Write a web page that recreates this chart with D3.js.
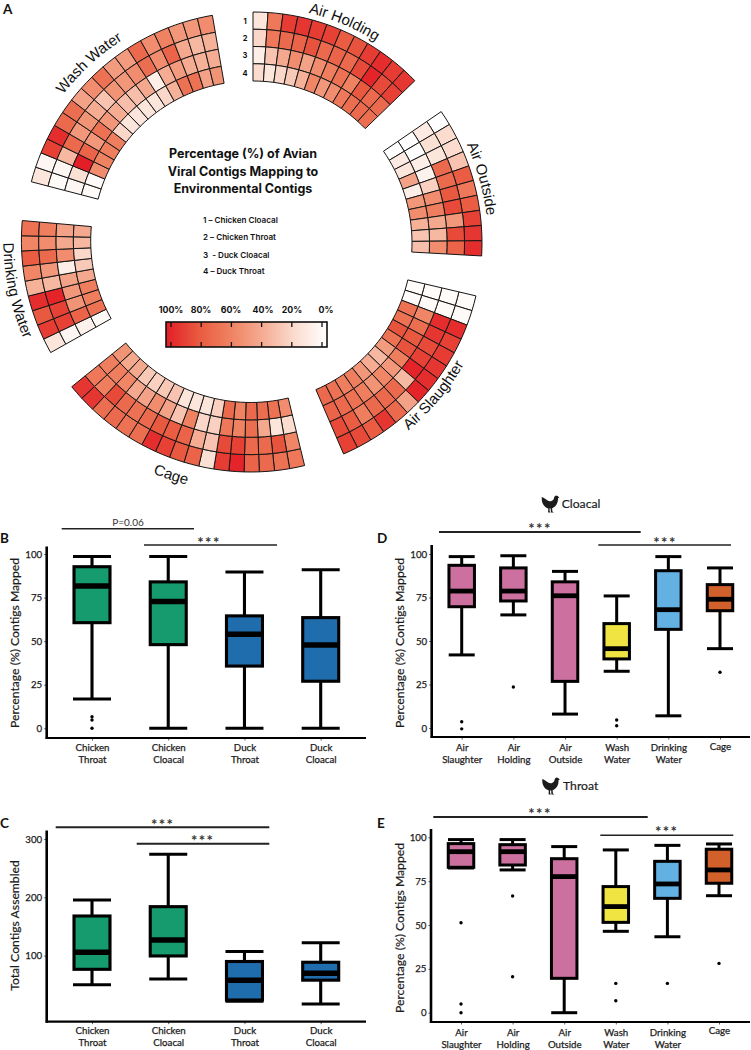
<!DOCTYPE html>
<html>
<head>
<meta charset="utf-8">
<script src="https://cdnjs.cloudflare.com/ajax/libs/d3/7.8.5/d3.min.js"></script>
<style>
html,body{margin:0;padding:0;background:#fff}
svg{display:block}
</style>
</head>
<body>
<svg id="c" width="751" height="1050" viewBox="0 0 751 1050"></svg>
<script>
// ---------- Panel A data (rows run outer ring to inner ring, cells run clockwise) ----------
const airHolding = [
  [15,65,90,92,90,88,78,82,90,95,90,92],
  [22,65,72,75,82,72,75,72,85,98,85,88],
  [10,30,42,55,45,55,62,68,60,80,72,72],
  [20,15,22,28,38,58,50,55,65,70,72,70]
];
const airOutside = [
  [0,20,20,30,78,65,78,88,92,95],
  [12,18,15,72,72,80,85,50,85,75],
  [0,0,10,8,25,55,62,42,35,55],
  [0,12,15,45,10,50,55,38,30,32]
];
const airSlaughter = [
  [2,3,95,88,90,92,95,98,45,72,92,78,85,88],
  [2,3,95,92,85,88,98,35,72,72,72,62,78,85],
  [2,3,58,70,80,82,62,50,58,52,62,68,72,75],
  [2,2,68,68,82,68,48,35,40,50,62,62,68,72]
];
const cage = [
  [65,68,72,75,98,90,18,75,80,88,95,70,68,72,70,92,92],
  [58,82,72,72,88,85,30,40,75,78,80,72,68,72,85,62,65],
  [20,15,42,70,60,65,25,22,60,30,45,55,45,42,58,62,62],
  [55,68,70,72,60,72,25,15,15,15,30,28,25,28,42,42,52]
];
const drinkingWater = [
  [15,90,80,95,38,58,78,58,68],
  [5,88,88,98,35,50,72,55,62],
  [8,75,52,50,45,10,55,42,45],
  [3,68,62,62,42,28,22,35,42]
];
const washWater = [
  [15,5,88,95,72,70,45,55,68,48,48,72,55,60,50,50,55],
  [3,5,35,72,50,52,40,30,52,50,55,70,55,75,42,35,38],
  [5,18,100,75,50,68,50,40,32,32,42,10,40,48,40,38,40],
  [3,3,55,60,62,62,22,15,15,15,15,22,38,68,68,45,52]
];
const rowNumbers = ["1","2","3","4"];
const titleLines = ["Percentage (%) of Avian","Viral Contigs Mapping to","Environmental Contigs"];
const keyLines = ["1 – Chicken Cloacal","2 – Chicken Throat","3  - Duck Cloacal","4 – Duck Throat"];
const legendStops = [100,80,60,40,20,0];
const legendLabels = ["100%","80%","60%","40%","20%","0%"];

// ---------- Box plot data ----------
const sampleCats = ["Chicken Throat","Chicken Cloacal","Duck Throat","Duck Cloacal"];
const sampleColors = ["#169b6f","#169b6f","#1f6dad","#1f6dad"];
const envCats = ["Air Slaughter","Air Holding","Air Outside","Wash Water","Drinking Water","Cage"];
const envColors = ["#cb709f","#cb709f","#cb709f","#f0e442","#62b1e2","#d2602a"];

const bLow = [16.8,0,0,0], bQ1 = [60.6,48,35.7,27], bMed = [81.6,72.7,54,47.8], bQ3 = [92.7,84,64.5,63.5], bHigh = [98.5,98.5,89.7,91];
const bOut = [[6.6,4.8,0],[],[],[]];
const bTicks = [0,25,50,75,100];

const cLow = [50,60,22,17], cQ1 = [76.6,99.5,24,58], cMed = [105.8,127,58,70], cQ3 = [168,184,90,88.7], cHigh = [195.5,274,107,122];
const cOut = [[],[],[],[]];
const cTicks = [100,200,300];

const dLow = [42,65,8,32.6,7,45.6], dQ1 = [69.7,73,26.8,39.7,56.7,67.4], dMed = [78.7,78.7,76,45.6,68,74], dQ3 = [93.5,92,84,60,90.4,82.4], dHigh = [98.5,99,90,75.9,98.5,92];
const dOut = [[3.6,-0.5],[23.6],[],[4.6,1.3],[],[32]];

const eLow = [82.5,81.4,0,46.4,43.3,66.7], eQ1 = [82.9,84.2,19.6,51.5,65.2,73.8], eMed = [91.8,91.8,77.6,60.5,73.4,81.4], eQ3 = [96.4,95.8,87.8,71.9,86.3,93.2], eHigh = [98.7,98.7,94.7,92.8,95.4,96.2];
const eOut = [[51.3,5,0],[66.5,20.5],[],[16.7,6.8],[16.7],[28.1]];

const svg = d3.select("#c");
const SANS = "'Liberation Sans',Arial,sans-serif";
const LAB = "Lato,'Open Sans',sans-serif";
const HEAD = "Inter,'Noto Sans',sans-serif";

// ---------- Panel A ----------
const deg = d => d * Math.PI / 180;
const heat = d3.scaleLinear()
  .domain([0,20,40,60,80,100])
  .range(["#ffffff","#fbdccf","#f5ac93","#ef8261","#e9593f","#e31e27"]);

const ring = svg.append("g");
const defs = svg.append("defs");
const sectors = [
  {name:"Air Holding", rows:airHolding, cx:253, cy:237, r0:156, r1:225, a0:0, a1:46, la:23, lr:231, lsp:78, flip:false},
  {name:"Air Outside", rows:airOutside, cx:250, cy:243, r0:162, r1:232, a0:55.5, a1:93.2, la:74.5, lr:238, lsp:80, flip:false},
  {name:"Air Slaughter", rows:airSlaughter, cx:253, cy:243.6, r0:159, r1:229, a0:103.2, a1:156.7, la:130, lr:243, lsp:90, flip:true},
  {name:"Cage", rows:cage, cx:250.5, cy:242, r0:160.5, r1:230, a0:166.4, a1:231, la:198.8, lr:251, lsp:60, flip:true},
  {name:"Drinking Water", rows:drinkingWater, cx:250.4, cy:240.5, r0:159.7, r1:229, a0:240.7, a1:275, la:258, lr:247, lsp:100, flip:true},
  {name:"Wash Water", rows:washWater, cx:251, cy:239, r0:158, r1:227, a0:284.6, a1:350.2, la:317.4, lr:237, lsp:90, flip:false}
];
sectors.forEach((s,si) => {
  const g = ring.append("g").attr("transform",`translate(${s.cx},${s.cy})`);
  const n = s.rows[0].length;
  const ang = d3.scaleLinear().domain([0,n]).range([deg(s.a0),deg(s.a1)]);
  const rad = d3.scaleLinear().domain([0,4]).range([s.r1,s.r0]);
  const arc = d3.arc();
  s.rows.forEach((row,ri) => {
    g.selectAll(null).data(row).enter().append("path")
      .attr("d",(v,i) => arc({innerRadius:rad(ri+1),outerRadius:rad(ri),startAngle:ang(i),endAngle:ang(i+1)}))
      .attr("fill",v => heat(v))
      .attr("stroke","#161616").attr("stroke-width",1);
  });
  // curved name
  const half = s.lsp/2/s.lr*180/Math.PI*1.5;
  const toXY = a => [s.cx+s.lr*Math.sin(deg(a)), s.cy-s.lr*Math.cos(deg(a))];
  const [fromA,toA] = s.flip ? [s.la+half,s.la-half] : [s.la-half,s.la+half];
  const [x0,y0] = toXY(fromA), [x1,y1] = toXY(toA);
  const id = "lab"+si;
  defs.append("path").attr("id",id)
    .attr("d",`M${x0},${y0}A${s.lr},${s.lr} 0 0 ${s.flip?0:1} ${x1},${y1}`);
  svg.append("text").attr("font-family",SANS).attr("font-size",15).attr("fill","#111")
    .append("textPath").attr("href","#"+id).attr("startOffset","50%").attr("text-anchor","middle")
    .text(s.name);
});
// row numbers
const rowY = d3.scalePoint().domain(rowNumbers).range([21.5,73]);
svg.selectAll(null).data(rowNumbers).enter().append("text")
  .attr("x",245).attr("y",d=>rowY(d)).attr("dy","0.35em").attr("text-anchor","middle")
  .attr("font-family",HEAD).attr("font-weight",700).attr("font-size",7.5).attr("fill","#111").text(d=>d);

// centre texts
svg.selectAll(null).data(titleLines).enter().append("text")
  .attr("x",243).attr("y",(d,i)=>154+i*17.2).attr("dy","0.35em").attr("text-anchor","middle")
  .attr("font-family",HEAD).attr("font-weight",700).attr("font-size",12.5).attr("fill","#111").text(d=>d);
const keyY = [220,237,255,271.5];
svg.selectAll(null).data(keyLines).enter().append("text")
  .attr("x",203).attr("y",(d,i)=>keyY[i]).attr("dy","0.35em").style("white-space","pre")
  .attr("font-family",HEAD).attr("font-weight",600).attr("font-size",8.1).attr("fill","#111").text(d=>d);

// gradient legend
const grad = defs.append("linearGradient").attr("id","lg");
d3.range(0,101,10).forEach(t => grad.append("stop").attr("offset",t+"%").attr("stop-color",heat(100-t)));
const lx = d3.scaleLinear().domain([100,0]).range([171,322]);
const lgY0 = 322, lgY1 = 347;
svg.append("rect").attr("x",166).attr("y",lgY0).attr("width",161).attr("height",lgY1-lgY0)
  .attr("fill","url(#lg)").attr("stroke","#111").attr("stroke-width",1.6);
svg.selectAll(null).data(legendStops).enter().append("line").attr("x1",d=>lx(d)).attr("x2",d=>lx(d)).attr("y1",lgY0).attr("y2",lgY0+5).attr("stroke","#111").attr("stroke-width",1.3);
svg.selectAll(null).data(legendStops).enter().append("line").attr("x1",d=>lx(d)).attr("x2",d=>lx(d)).attr("y1",lgY1-5).attr("y2",lgY1).attr("stroke","#111").attr("stroke-width",1.3);
const lgLabX = [171,201,231,263,292,326];
svg.selectAll(null).data(legendLabels).enter().append("text")
  .attr("x",(d,i)=>lgLabX[i]).attr("y",310).attr("dy","0.35em").attr("text-anchor","middle")
  .attr("font-family",HEAD).attr("font-weight",700).attr("font-size",8.8).attr("fill","#111").text(d=>d);

// ---------- Panel letters ----------
const letters = [["A",3,13.5],["B",0,543],["C",0,828],["D",377,543],["E",377,828]];
svg.selectAll(null).data(letters).enter().append("text")
  .attr("x",d=>d[1]).attr("y",d=>d[2]).attr("font-size",13.5)
  .attr("font-family",LAB).attr("font-weight",700).attr("fill","#111").text(d=>d[0]);

// ---------- Box plots ----------
function boxPanel(o){
  const g = svg.append("g");
  const x = d3.scalePoint().domain(o.cats).range(o.xr);
  const y = d3.scaleLinear().domain(o.dom).range(o.yr);

  const styleLab = sel => sel.attr("font-family",LAB).attr("font-weight",400).attr("font-size",9.7)
    .attr("fill","#1c1c1c").attr("stroke","#1c1c1c").attr("stroke-width",.25);

  // axes
  const ax = g.append("g").attr("transform",`translate(${o.ax0},0)`)
    .call(d3.axisLeft(y).tickValues(o.ticks).tickSize(2.5).tickPadding(2).tickFormat(d3.format("d")));
  ax.select(".domain").remove();
  styleLab(ax.selectAll("text"));
  ax.selectAll("line").attr("stroke","#333").attr("stroke-width",.8);

  const bx = g.append("g").attr("transform",`translate(0,${o.ay1})`)
    .call(d3.axisBottom(x).tickSize(2.5).tickPadding(3));
  bx.select(".domain").remove();
  bx.selectAll("line").attr("stroke","#333").attr("stroke-width",.8);
  bx.selectAll("text").each(function(d){
    const t = d3.select(this);
    const parts = d.split(" ");
    t.text(null).attr("y",0).attr("dy",null);
    styleLab(t);
    parts.forEach((w,i)=>t.append("tspan").attr("x",0)
      .attr("y", parts.length===1 ? o.lab1-o.ay1-1.5 : (i===0?o.lab1:o.lab2)-o.ay1)
      .attr("dy","0.35em").text(w));
  });

  g.append("line").attr("x1",o.ax0).attr("x2",o.ax0).attr("y1",o.ay0).attr("y2",o.ay1+1).attr("stroke","#000").attr("stroke-width",2.6);
  g.append("line").attr("x1",o.ax0-1).attr("x2",o.ax1).attr("y1",o.ay1).attr("y2",o.ay1).attr("stroke","#000").attr("stroke-width",2.2);

  // marks
  o.cats.forEach((c,i)=>{
    const cx = x(c), m = g.append("g");
    const line=(a,b,p,q,w)=>m.append("line").attr("x1",a).attr("x2",b).attr("y1",p).attr("y2",q).attr("stroke","#000").attr("stroke-width",w);
    line(cx,cx,y(o.high[i]),y(o.q3[i]),o.sw);
    line(cx,cx,y(o.q1[i]),y(o.low[i]),o.sw);
    line(cx-o.cap/2,cx+o.cap/2,y(o.high[i]),y(o.high[i]),3);
    line(cx-o.cap/2,cx+o.cap/2,y(o.low[i]),y(o.low[i]),3);
    m.append("rect").attr("x",cx-o.bw/2).attr("width",o.bw)
      .attr("y",y(o.q3[i])).attr("height",y(o.q1[i])-y(o.q3[i]))
      .attr("fill",o.colors[i]).attr("stroke","#000").attr("stroke-width",o.sw);
    line(cx-o.bw/2,cx+o.bw/2,y(o.med[i]),y(o.med[i]),o.mw);
    m.selectAll("circle").data(o.out[i]).enter().append("circle")
      .attr("cx",cx).attr("cy",d=>y(d)).attr("r",1.7).attr("fill","#000");
  });

  // y title
  g.append("text").attr("transform",`translate(${o.tx},${o.ty}) rotate(-90)`)
    .attr("text-anchor","middle").attr("dy","0.35em")
    .attr("font-family",LAB).attr("font-weight",400).attr("font-size",12.2).attr("fill","#1c1c1c")
    .attr("stroke","#1c1c1c").attr("stroke-width",.2).text(o.ytitle);

  // significance bars
  o.sig.forEach(s=>{
    g.append("line").attr("x1",s[0]).attr("x2",s[1]).attr("y1",s[2]).attr("y2",s[2]).attr("stroke","#222").attr("stroke-width",s[3]);
    const star = s[6]==="***";
    g.append("text").attr("x",s[4]).attr("y",s[5]).attr("text-anchor","middle").attr("dy",star?"0.62em":"0.35em")
      .attr("font-family",LAB).attr("font-size",star?15:10).attr("fill","#333")
      .attr("letter-spacing",star?1.5:0).attr("font-weight",star?700:400).text(s[6]);
  });
}

boxPanel({cats:sampleCats,colors:sampleColors,xr:[92,320.7],dom:[0,100],yr:[728.3,554],ticks:bTicks,
  low:bLow,q1:bQ1,med:bMed,q3:bQ3,high:bHigh,out:bOut,
  ax0:46.7,ax1:366,ay0:546.5,ay1:738,lab1:747.7,lab2:760,bw:36,cap:38,mw:5.5,sw:3.1,
  tx:15,ty:643,ytitle:"Percentage (%) Contigs Mapped",
  sig:[[61.7,194,528.7,1.6,128,522,"P=0.06"],[144,277,545,1.6,209,538.5,"***"]]});

boxPanel({cats:sampleCats,colors:sampleColors,xr:[92,320.7],dom:[0,300],yr:[1014,839],ticks:cTicks,
  low:cLow,q1:cQ1,med:cMed,q3:cQ3,high:cHigh,out:cOut,
  ax0:46.7,ax1:366,ay0:830.5,ay1:1021.7,lab1:1030.7,lab2:1042.7,bw:36,cap:38,mw:5.5,sw:3.1,
  tx:15,ty:925.5,ytitle:"Total Contigs Assembled",
  sig:[[55.7,269.3,827.3,2,162.7,820.5,"***"],[136.7,269.3,843.7,2,202.7,836.5,"***"]]});

boxPanel({cats:envCats,colors:envColors,xr:[461.7,720],dom:[0,100],yr:[728,554],ticks:bTicks,
  low:dLow,q1:dQ1,med:dMed,q3:dQ3,high:dHigh,out:dOut,
  ax0:431.7,ax1:750,ay0:545,ay1:737,lab1:747.7,lab2:760,bw:25.5,cap:26,mw:4.8,sw:3,
  tx:400,ty:643,ytitle:"Percentage (%) Contigs Mapped",
  sig:[[439,640.7,532,2,540,524.5,"***"],[598.3,731,545,1.6,665,538.5,"***"]]});

boxPanel({cats:envCats,colors:envColors,xr:[461,719],dom:[0,100],yr:[1012.7,837.3],ticks:bTicks,
  low:eLow,q1:eQ1,med:eMed,q3:eQ3,high:eHigh,out:eOut,
  ax0:431,ax1:750,ay0:829,ay1:1022,lab1:1032.5,lab2:1044.5,bw:25.5,cap:26,mw:4.8,sw:3,
  tx:400,ty:928,ytitle:"Percentage (%) Contigs Mapped",
  sig:[[433.3,647.7,817,2,540,809.5,"***"],[600.3,733.3,835.3,1.6,666.7,828,"***"]]});

// ---------- Hen titles ----------
const henPath = "M0.3,2 C2.8,2.6 4.5,4.8 6.5,5.8 C8.5,6.6 10.6,6.2 12,4.4 L13,1.6 L14.5,0.4 L16.2,0.9 L17.8,2.6 L16.5,3.2 C16.8,7 15.2,11 11.6,12.8 L10.6,13.3 L10.9,16.6 L12.4,17.6 L9.4,17.6 L9.2,13.6 L8,13.6 L8.2,16.6 L9,17.6 L6.6,17.6 L6.8,13.4 C2.8,12.4 -0.3,8 0.3,2Z";
[["Cloacal",541.5,495,561.7,504],["Throat",542,777,563,786]].forEach(t=>{
  svg.append("path").attr("d",henPath).attr("transform",`translate(${t[1]},${t[2]})`).attr("fill","#1c1c1c");
  svg.append("text").attr("x",t[3]).attr("y",t[4]).attr("dy","0.35em")
    .attr("font-family",LAB).attr("font-size",12.2).attr("fill","#1c1c1c").attr("stroke","#1c1c1c").attr("stroke-width",.2).text(t[0]);
});
</script>
</body>
</html>
